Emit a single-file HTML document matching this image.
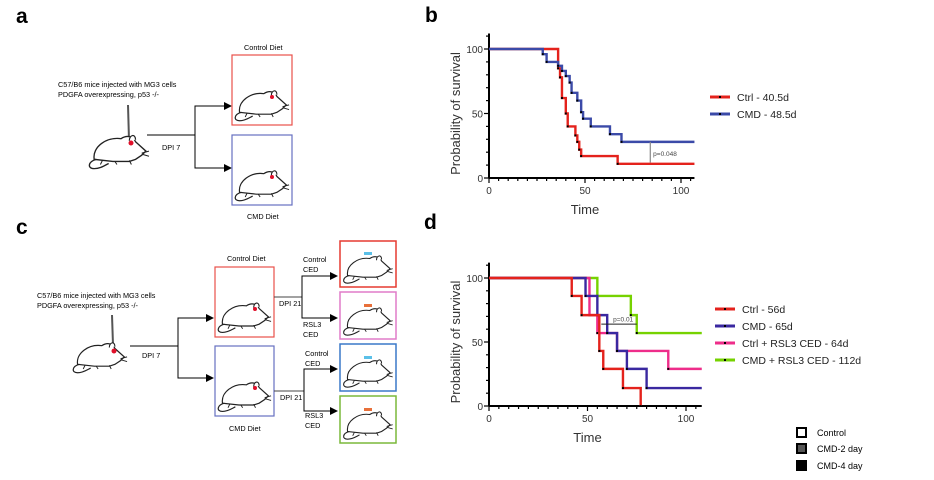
<!DOCTYPE html>
<html><head><meta charset="utf-8">
<style>
body{margin:0;background:#fff;width:934px;height:480px;overflow:hidden;font-family:"Liberation Sans",sans-serif}
svg{position:absolute;left:0;top:0}
</style></head>
<body>
<svg id="fig" width="934" height="480" viewBox="0 0 934 480">
<defs>
<symbol id="mouse" viewBox="0 0 60 40">
<path d="M6 30 C4 18 18 8 32 10 C38 6 44 8 46 13 L56 22 L52 26 L46 30 L40 32 L24 32 Z" fill="#fff" stroke="#222" stroke-width="1.3"/>
<path d="M8 30 C0 32 -1 39 6 39 C12 39 16 36 20 34" fill="none" stroke="#222" stroke-width="1.3"/>
<path d="M40 12 C40 6 46 5 46 11" fill="#fff" stroke="#222" stroke-width="1.2"/>
<path d="M14 31 L12 35 M26 32 L28 35 M40 31 L42 35 M52 24 L59 22 M52 25 L59 27" stroke="#222" stroke-width="1" fill="none"/>
</symbol>
</defs>
<g>
<text x="16" y="23" font-size="21" font-weight="bold">a</text>
<text x="58" y="87" font-size="7.3">C57/B6 mice injected with MG3 cells</text>
<text x="58" y="97" font-size="7.3">PDGFA overexpressing, p53 -/-</text>
<line x1="128" y1="105" x2="129" y2="140" stroke="#555" stroke-width="2"/>
<use href="#mouse" x="88" y="128" width="62" height="42"/>
<circle cx="131" cy="143" r="2.5" fill="#e0102a"/>
<polyline points="147,135 195,135" stroke="#000" fill="none"/>
<polyline points="230,106 195,106 195,168 230,168" stroke="#000" fill="none"/>
<polygon points="224,102 232,106 224,110" fill="#000"/><polygon points="224,164 232,168 224,172" fill="#000"/>
<text x="162" y="150" font-size="7.3">DPI 7</text>
<text x="244" y="50" font-size="7.3">Control Diet</text>
<rect x="232" y="55" width="60" height="70" fill="none" stroke="#e8504a" stroke-width="1.2"/>
<use href="#mouse" x="234" y="84" width="56" height="38"/><circle cx="272" cy="97" r="2" fill="#e0102a"/>
<rect x="232" y="135" width="60" height="70" fill="none" stroke="#6670c0" stroke-width="1.2"/>
<use href="#mouse" x="234" y="164" width="56" height="38"/><circle cx="272" cy="177" r="2" fill="#e0102a"/>
<text x="247" y="219" font-size="7.3">CMD Diet</text>
</g>
<g>
<text x="16" y="234" font-size="21" font-weight="bold">c</text>
<text x="37" y="298" font-size="7.3">C57/B6 mice injected with MG3 cells</text>
<text x="37" y="308" font-size="7.3">PDGFA overexpressing, p53 -/-</text>
<line x1="112" y1="315" x2="113" y2="345" stroke="#555" stroke-width="2"/>
<use href="#mouse" x="72" y="336" width="56" height="38"/><circle cx="114" cy="351" r="2.5" fill="#e0102a"/>
<polyline points="130,346 178,346" stroke="#000" fill="none"/>
<polyline points="212,318 178,318 178,378 212,378" stroke="#000" fill="none"/>
<polygon points="206,314 214,318 206,322" fill="#000"/><polygon points="206,374 214,378 206,382" fill="#000"/>
<text x="142" y="358" font-size="7.3">DPI 7</text>
<text x="227" y="261" font-size="7.3">Control Diet</text>
<rect x="215" y="267" width="59" height="70" fill="none" stroke="#e8504a" stroke-width="1.2"/>
<use href="#mouse" x="217" y="296" width="55" height="38"/><circle cx="255" cy="309" r="2" fill="#e0102a"/>
<rect x="215" y="346" width="59" height="70" fill="none" stroke="#6670c0" stroke-width="1.2"/>
<use href="#mouse" x="217" y="375" width="55" height="38"/><circle cx="255" cy="388" r="2" fill="#e0102a"/>
<text x="229" y="431" font-size="7.3">CMD Diet</text>
<polyline points="274,297 302,297" stroke="#444" fill="none"/>
<polyline points="336,276 302,276 302,318 336,318" stroke="#000" fill="none"/>
<polygon points="330,272 338,276 330,280" fill="#000"/><polygon points="330,314 338,318 330,322" fill="#000"/>
<polyline points="274,391 304,391" stroke="#444" fill="none"/>
<polyline points="336,369 304,369 304,411 336,411" stroke="#000" fill="none"/>
<polygon points="330,365 338,369 330,373" fill="#000"/><polygon points="330,407 338,411 330,415" fill="#000"/>
<text x="279" y="306" font-size="7.3">DPI 21</text><text x="280" y="400" font-size="7.3">DPI 21</text>
<text x="303" y="262" font-size="7.3">Control</text><text x="303" y="272" font-size="7.3">CED</text>
<text x="303" y="327" font-size="7.3">RSL3</text><text x="303" y="337" font-size="7.3">CED</text>
<text x="305" y="356" font-size="7.3">Control</text><text x="305" y="366" font-size="7.3">CED</text>
<text x="305" y="418" font-size="7.3">RSL3</text><text x="305" y="428" font-size="7.3">CED</text>
<rect x="340" y="241" width="56" height="46" fill="none" stroke="#e53a30" stroke-width="1.5"/>
<rect x="340" y="292" width="56" height="47" fill="none" stroke="#e07cc8" stroke-width="1.5"/>
<rect x="340" y="344" width="56" height="47" fill="none" stroke="#3a78c8" stroke-width="1.5"/>
<rect x="340" y="396" width="56" height="47" fill="none" stroke="#7ab83a" stroke-width="1.5"/>
<use href="#mouse" x="342" y="250" width="52" height="34"/><rect x="364" y="252" width="8" height="3" fill="#5bc0e8"/>
<use href="#mouse" x="342" y="302" width="52" height="34"/><rect x="364" y="304" width="8" height="3" fill="#e8703a"/>
<use href="#mouse" x="342" y="354" width="52" height="34"/><rect x="364" y="356" width="8" height="3" fill="#5bc0e8"/>
<use href="#mouse" x="342" y="406" width="52" height="34"/><rect x="364" y="408" width="8" height="3" fill="#e8703a"/>
</g>
<text x="425" y="22" font-size="21" font-weight="bold">b</text>
<text x="424" y="229" font-size="21" font-weight="bold">d</text>
<g id="chartB"></g>
<g id="chartD"></g>
<g>
<rect x="797" y="428" width="9" height="9" fill="#fff" stroke="#000" stroke-width="2"/>
<text x="817" y="436" font-size="9">Control</text>
<rect x="797" y="444" width="9" height="9" fill="#555" stroke="#000" stroke-width="2"/>
<text x="817" y="452" font-size="9">CMD-2 day</text>
<rect x="797" y="461" width="9" height="9" fill="#000" stroke="#000" stroke-width="2"/>
<text x="817" y="469" font-size="9">CMD-4 day</text>
</g>
</svg>
<script>
// Chart b data
const bTimesCtrl=[36,37,38,40,41,45,46,47,48,67];
const bSurvCtrl=[85,78,62,50,40,33,28,22,17,11];
const bTimesCMD=[28,30,36,38,40,42,43,46,48,49,53,63,69];
const bSurvCMD=[96,90,87,83,79,74,66,60,51,46,40,34,28];
const bLegend=["Ctrl - 40.5d","CMD - 48.5d"];
// Chart d data
const dTimesCtrl=[42,47,56,58,68,77];
const dSurvCtrl=[86,71,43,29,14,0];
const dTimesCMD=[49,55,60,65,70,80];
const dSurvCMD=[86,71,57,43,29,14];
const dTimesCR=[51,55,65,91];
const dSurvCR=[71,57,43,29];
const dTimesCMDR=[55,72,75];
const dSurvCMDR=[86,71,57];
const dLegend=["Ctrl - 56d","CMD - 65d","Ctrl + RSL3 CED - 64d","CMD + RSL3 CED - 112d"];
const xTicks=[0,50,100];
const yTicks=[0,50,100];
const NS="http://www.w3.org/2000/svg";
function mk(p,t,a){const e=document.createElementNS(NS,t);for(const k in a)e.setAttribute(k,a[k]);p.appendChild(e);return e;}
function chart(g,x0,x1,y0,y1,xmax,series,legendX,legendY,legendDy){
  const X=v=>x0+(x1-x0)*v/100, Y=v=>y0-(y0-y1)*v/100;
  const axY=mk(g,'line',{x1:x0,y1:Y(112),x2:x0,y2:y0,stroke:'#000','stroke-width':2});
  
  const axX=mk(g,'line',{x1:x0,y1:y0,x2:X(xmax),y2:y0,stroke:'#000','stroke-width':2});
  
  for(let v=0;v<=xmax;v+=5){mk(g,'line',{x1:X(v),y1:y0,x2:X(v),y2:y0+(v%50==0?5:3),stroke:'#000','stroke-width':1.2});}
  for(let v=0;v<=110;v+=10){mk(g,'line',{x1:x0,y1:Y(v),x2:x0-(v%50==0?5:3),y2:Y(v),stroke:'#000','stroke-width':1.2});}
  xTicks.forEach(v=>{const t=mk(g,'text',{x:X(v),y:y0+16,'font-size':10,'text-anchor':'middle',fill:'#333'});t.textContent=v;
    });
  yTicks.forEach(v=>{const t=mk(g,'text',{x:x0-6,y:Y(v)+4,'font-size':10,'text-anchor':'end',fill:'#333'});t.textContent=v;
    });
  const xt=mk(g,'text',{x:X(50),y:y0+36,'font-size':13,'text-anchor':'middle',fill:'#333'});xt.textContent='Time';
  
  const yt=mk(g,'text',{x:0,y:0,'font-size':13,'text-anchor':'middle',fill:'#333',transform:`translate(${x0-29},${Y(50)}) rotate(-90)`});yt.textContent='Probability of survival';
  
  series.forEach((s,i)=>{
    let d=`M${X(0)},${Y(100)}`;let prev=100;
    s.t.forEach((t,j)=>{d+=` L${X(t)},${Y(prev)} L${X(t)},${Y(s.v[j])}`;prev=s.v[j];});
    if(prev>0)d+=` L${X(s.end)},${Y(prev)}`;
    const p=mk(g,'path',{d:d,fill:'none',stroke:s.c,'stroke-width':2.4});
    
    s.t.forEach((t,j)=>{const c=mk(g,'rect',{x:X(t)-1,y:Y(s.v[j])-1,width:2,height:2,fill:'#000'});
      });
    const ly=legendY+i*legendDy;
    const ll=mk(g,'line',{x1:legendX,y1:ly,x2:legendX+20,y2:ly,stroke:s.c,'stroke-width':3});
    
    mk(g,'rect',{x:legendX+9,y:ly-1,width:2,height:2,fill:'#000'});
    const lt=mk(g,'text',{x:legendX+27,y:ly+4,'font-size':10.5,fill:'#222'});lt.textContent=s.label;
    
  });
  return {X,Y};
}
const gb=document.getElementById('chartB');
const ab=chart(gb,489,681,178,49,107,[
 {t:bTimesCtrl,v:bSurvCtrl,c:'#e4221c',n:'ctrl',end:107,label:bLegend[0]},
 {t:bTimesCMD,v:bSurvCMD,c:'#3b4aa8',n:'cmd',end:107,label:bLegend[1]}],710,97,17);
mk(gb,'line',{x1:ab.X(84),y1:ab.Y(28),x2:ab.X(84),y2:ab.Y(12),stroke:'#888','stroke-width':1.2});
const pb=mk(gb,'text',{x:ab.X(85.5),y:ab.Y(17),'font-size':6.5,fill:'#444'});pb.textContent='p=0.048';

const gd=document.getElementById('chartD');
const ad=chart(gd,489,686,406,278,108,[
 {t:dTimesCMDR,v:dSurvCMDR,c:'#76d200',n:'cmd-rsl3',end:108,label:dLegend[3]},
 {t:dTimesCR,v:dSurvCR,c:'#ee2d8a',n:'ctrl-rsl3',end:108,label:dLegend[2]},
 {t:dTimesCMD,v:dSurvCMD,c:'#3a28a0',n:'cmd',end:108,label:dLegend[1]},
 {t:dTimesCtrl,v:dSurvCtrl,c:'#e4221c',n:'ctrl',end:77,label:dLegend[0]}],715,360,-17);
mk(gd,'line',{x1:ad.X(57),y1:ad.Y(64),x2:ad.X(75),y2:ad.Y(64),stroke:'#222','stroke-width':1});
const pd=mk(gd,'text',{x:ad.X(63),y:ad.Y(66),'font-size':6.5,fill:'#444'});pd.textContent='p=0.01';

</script>
</body></html>
